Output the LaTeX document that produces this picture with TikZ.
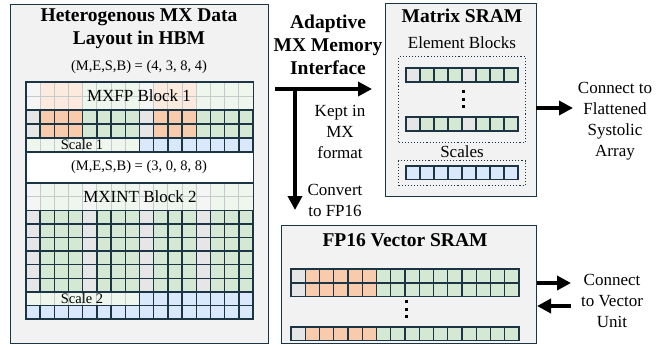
\documentclass[tikz,border=0pt]{standalone}
\usepackage{fontspec}
\setmainfont{Liberation Serif}
\usetikzlibrary{arrows.meta}
\definecolor{lnd}{HTML}{1B3544}
\definecolor{bgbox}{HTML}{F2F2F2}
\definecolor{cg}{HTML}{E6E6E6}
\definecolor{co}{HTML}{F8CBAD}
\definecolor{cgr}{HTML}{D5E8D4}
\definecolor{cb}{HTML}{DAE8FC}
\definecolor{lnf}{HTML}{C3CCCA}
\tikzset{
 panel/.style={draw=lnd, fill=bgbox, line width=1.3pt, anchor=north west, inner sep=0pt},
 ttl/.style={font=\fontsize{19.5}{23}\selectfont\bfseries, align=center, inner sep=0pt},
 lbl/.style={font=\fontsize{17}{21}\selectfont, align=center, inner sep=0pt},
 mes/.style={font=\fontsize{14.5}{17}\selectfont, inner sep=0pt},
 sc/.style={font=\fontsize{14.5}{17}\selectfont, inner sep=0pt},
 bigarrow/.style={draw=black, line width=3.6pt, -{Triangle[length=14pt,width=14pt]}},
 dotbox/.style={draw=lnd, dotted, line width=1.1pt, anchor=north west, inner sep=0pt, fill=none},
 fcell/.style={draw=lnf, line width=0.9pt},
 dcell/.style={draw=lnd, line width=1.4pt},
}
\newcommand{\patA}[1]{\pgfmathtruncatemacro\mm{mod(#1,8)}\ifnum\mm=0 \def\cc{cg}\else\ifnum\mm<4 \def\cc{co}\else\def\cc{cgr}\fi\fi}
\newcommand{\patB}[1]{\pgfmathtruncatemacro\mm{mod(#1,4)}\ifnum\mm=0 \def\cc{cg}\else\def\cc{cgr}\fi}
\newcommand{\patC}[1]{\ifnum#1=0 \def\cc{cg}\else\ifnum#1<6 \def\cc{co}\else\def\cc{cgr}\fi\fi}
\begin{document}
\begin{tikzpicture}[x=1pt,y=-1pt]
\useasboundingbox (0,0) rectangle (666,345);
% ---------- left panel ----------
\node[panel, minimum width=258pt, minimum height=339pt] (hbm) at (10,4) {};
\node[ttl] (hbmt) at (139,28.5) {Heterogenous MX Data\\Layout in HBM};
\node[mes] (mes1) at (139,67) {(M,E,S,B) = (4, 3, 8, 4)};
\node[draw=none, fill=white, anchor=north west, minimum width=227pt, minimum height=237pt, inner sep=0pt] (grid) at (26,82) {};
% block 1
\def\cw{14.1875}
\foreach \r in {0,1}{\foreach \c in {0,...,15}{\patA{\c}\pgfmathsetmacro\xx{26+\c*\cw}\pgfmathsetmacro\yy{82+\r*14}
  \draw[fcell, fill=\cc!40!white] (\xx,\yy) rectangle ++(\cw,14);}}
\foreach \c in {0,...,7}{\pgfmathsetmacro\xx{26+\c*\cw}
  \draw[fcell, fill=cgr!40!white] (\xx,138) rectangle ++(\cw,14);}
\foreach \r in {2,3}{\foreach \c in {0,...,15}{\patA{\c}\pgfmathsetmacro\xx{26+\c*\cw}\pgfmathsetmacro\yy{82+\r*14}
  \draw[dcell, fill=\cc] (\xx,\yy) rectangle ++(\cw,14);}}
\foreach \c in {8,...,15}{\pgfmathsetmacro\xx{26+\c*\cw}
  \draw[dcell, fill=cb] (\xx,138) rectangle ++(\cw,14);}
% block 2
\def\rh{13.6}
\foreach \r in {0,1}{\foreach \c in {0,...,15}{\patB{\c}\pgfmathsetmacro\xx{26+\c*\cw}\pgfmathsetmacro\yy{183+\r*\rh}
  \draw[fcell, fill=\cc!40!white] (\xx,\yy) rectangle ++(\cw,\rh);}}
\foreach \c in {0,...,7}{\pgfmathsetmacro\xx{26+\c*\cw}
  \draw[fcell, fill=cgr!40!white] (\xx,183+8*\rh) rectangle ++(\cw,\rh);}
\foreach \r in {2,...,7}{\foreach \c in {0,...,15}{\patB{\c}\pgfmathsetmacro\xx{26+\c*\cw}\pgfmathsetmacro\yy{183+\r*\rh}
  \draw[dcell, fill=\cc] (\xx,\yy) rectangle ++(\cw,\rh);}}
\foreach \c in {8,...,15}{\pgfmathsetmacro\xx{26+\c*\cw}
  \draw[dcell, fill=cb] (\xx,183+8*\rh) rectangle ++(\cw,\rh);}
\foreach \c in {0,...,15}{\pgfmathsetmacro\xx{26+\c*\cw}
  \draw[dcell, fill=cb] (\xx,183+9*\rh) rectangle ++(\cw,\rh);}
\draw[lnd, line width=1.4pt] (grid.north west) rectangle (grid.south east);
\draw[lnd, line width=1.4pt] (26,152) -- (253,152) (26,183) -- (253,183);
\node[lbl] (b1) at (139,96) {MXFP Block 1};
\node[sc] (s1) at (82,145) {Scale 1};
\node[mes] (mes2) at (139,167.5) {(M,E,S,B) = (3, 0, 8, 8)};
\node[lbl] (b2) at (140,197) {MXINT Block 2};
\node[sc] (s2) at (82,298.5) {Scale 2};
% ---------- interface ----------
\node[ttl] (ami) at (328,45) {Adaptive\\MX Memory\\Interface};
\coordinate (hs) at (275,89);
\coordinate (he) at (372,89);
\coordinate (vs) at (295,87.5);
\coordinate (ve) at (295,210);
\draw[bigarrow] (hs) -- (he);
\draw[bigarrow] (vs) -- (ve);
\node[lbl] (kept) at (340,131.5) {Kept in\\MX\\format};
\node[lbl] (conv) at (335,200) {Convert\\to FP16};
% ---------- matrix SRAM ----------
\node[panel, minimum width=151pt, minimum height=193pt] (mat) at (385,3) {};
\node[ttl] (matt) at (462,16) {Matrix SRAM};
\node[lbl] (eb) at (462,43) {Element Blocks};
\node[dotbox, minimum width=127pt, minimum height=86pt] (ebbox) at (398,56) {};
\foreach \y in {68,117}{\foreach \c in {0,...,7}{\patB{\c}\pgfmathsetmacro\xx{406+\c*14}
  \draw[dcell, fill=\cc] (\xx,\y) rectangle ++(14,14);}}
\foreach \y in {90,97.5,105}{\fill[black] (461.5,\y) rectangle ++(3,3);}
\node[lbl] (scl) at (462,152) {Scales};
\node[dotbox, minimum width=127pt, minimum height=25pt] (scbox) at (398,160) {};
\foreach \c in {0,...,7}{\pgfmathsetmacro\xx{406+\c*14}
  \draw[dcell, fill=cb] (\xx,166) rectangle ++(14,13.5);}
\coordinate (ms) at (536,108);
\coordinate (me) at (573,108);
\draw[bigarrow] (ms) -- (me);
\node[lbl] (csa) at (615,121) {Connect to\\Flattened\\Systolic\\Array};
% ---------- FP16 vector SRAM ----------
\node[panel, minimum width=255pt, minimum height=118pt] (vec) at (281,225) {};
\node[ttl] (vect) at (405,240) {FP16 Vector SRAM};
\def\vw{14.25}
\foreach \y in {269,283,327}{\foreach \c in {0,...,15}{\patC{\c}\pgfmathsetmacro\xx{291+\c*\vw}
  \draw[dcell, fill=\cc] (\xx,\y) rectangle ++(\vw,13.5);}}
\foreach \y in {300,307.5,315}{\fill[black] (404.5,\y) rectangle ++(3,3);}
\coordinate (v1s) at (537,283);
\coordinate (v1e) at (571,283);
\coordinate (v2s) at (571,306);
\coordinate (v2e) at (537,306);
\draw[bigarrow] (v1s) -- (v1e);
\draw[bigarrow] (v2s) -- (v2e);
\node[lbl] (cvu) at (612,301) {Connect\\to Vector\\Unit};
\end{tikzpicture}
\end{document}
